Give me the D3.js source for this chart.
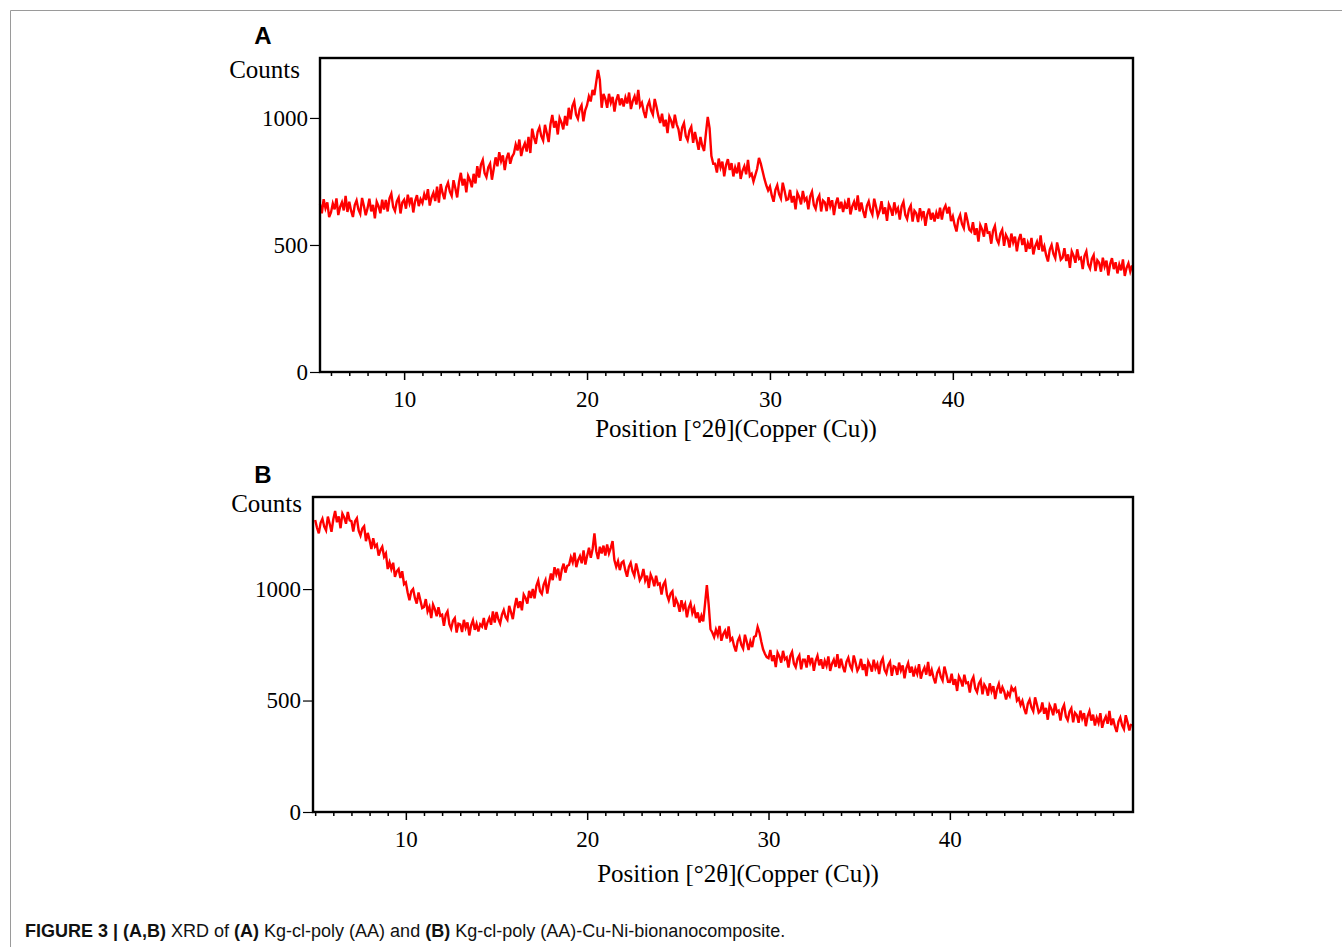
<!DOCTYPE html>
<html>
<head>
<meta charset="utf-8">
<script src="https://cdn.jsdelivr.net/npm/d3@7"></script>
<style>
  body { margin: 0; background: #fff; }
  svg { display: block; }
  .tick text { font-family: "Liberation Serif", "Times New Roman", serif; }
</style>
</head>
<body>
<svg id="fig" width="1342" height="947"></svg>
<script>
// XRD traces, counts every 0.1 deg 2theta
let startA = 5.4, stepA = 0.1;
let countsA = [
  660, 625, 680, 645, 668, 610,
  628, 663, 640, 683, 618, 650, 668, 636, 693, 630,
  670, 635, 610, 657, 675, 640, 623, 685, 653, 617,
  645, 682, 632, 658, 605, 670, 653, 625, 678, 640,
  677, 632, 684, 702, 650, 634, 672, 687, 624, 667,
  678, 643, 698, 663, 686, 628, 673, 696, 653, 680,
  665, 700, 677, 720, 655, 687, 705, 673, 730, 667,
  740, 705, 680, 727, 745, 710, 693, 755, 723, 687,
  747, 784, 734, 760, 707, 772, 755, 727, 780, 742,
  810, 765, 817, 835, 783, 767, 805, 820, 757, 800,
  845, 810, 865, 830, 853, 795, 840, 863, 820, 847,
  860, 895, 872, 915, 850, 882, 900, 868, 925, 862,
  958, 923, 898, 945, 963, 928, 911, 973, 941, 905,
  975, 1012, 962, 988, 935, 1000, 983, 955, 1008, 970,
  1040, 995, 1047, 1065, 1013, 997, 1035, 1050, 987, 1030,
  1050, 1085, 1065, 1110, 1090, 1140, 1189, 1150, 1040, 1095,
  1075, 1040, 1095, 1060, 1083, 1025, 1070, 1093, 1050, 1077,
  1045, 1080, 1057, 1100, 1035, 1067, 1085, 1053, 1110, 1047,
  1060, 1025, 1000, 1047, 1065, 1030, 1013, 1075, 1043, 1007,
  980, 1017, 967, 993, 940, 1005, 988, 960, 1013, 975,
  955, 910, 962, 980, 928, 912, 950, 965, 902, 945,
  910, 875, 925, 890, 870, 940, 1004, 960, 850, 820,
  820, 785, 840, 805, 828, 770, 815, 838, 795, 822,
  770, 805, 782, 825, 760, 792, 810, 778, 835, 772,
  780, 750, 775, 800, 843, 820, 790, 760, 735, 715,
  730, 695, 670, 717, 735, 700, 683, 745, 713, 677,
  680, 717, 667, 693, 640, 705, 688, 660, 713, 675,
  685, 640, 692, 710, 658, 642, 680, 695, 632, 675,
  668, 633, 688, 653, 676, 618, 663, 686, 643, 670,
  630, 665, 642, 685, 620, 652, 670, 638, 695, 632,
  667, 632, 607, 654, 672, 637, 620, 682, 650, 614,
  635, 672, 622, 648, 595, 660, 643, 615, 668, 630,
  645, 600, 652, 670, 618, 602, 640, 655, 592, 635,
  625, 590, 645, 610, 633, 575, 620, 643, 600, 627,
  592, 627, 604, 647, 600, 640, 655, 624, 650, 594,
  613, 578, 553, 600, 618, 583, 566, 628, 596, 560,
  553, 590, 540, 566, 513, 578, 561, 533, 586, 548,
  550, 505, 557, 575, 523, 507, 545, 560, 497, 540,
  525, 490, 545, 510, 533, 475, 520, 543, 500, 527,
  473, 508, 485, 528, 463, 495, 513, 481, 538, 475,
  495, 460, 435, 482, 500, 465, 448, 510, 478, 442,
  450, 487, 437, 463, 410, 475, 458, 430, 483, 445,
  450, 405, 457, 475, 423, 407, 445, 460, 397, 440,
  430, 395, 450, 415, 438, 380, 425, 448, 405, 432,
  388, 423, 400, 443, 378, 410, 428, 396, 420
];

let startB = 5.0, stepB = 0.1;
let countsB = [
  1310, 1275, 1250, 1297, 1315, 1280, 1263, 1325, 1293, 1257,
  1313, 1350, 1300, 1326, 1273, 1338, 1321, 1293, 1346, 1308,
  1305, 1258, 1305, 1318, 1262, 1240, 1272, 1282, 1215, 1252,
  1220, 1180, 1228, 1190, 1200, 1150, 1175, 1190, 1145, 1160,
  1090, 1120, 1090, 1118, 1055, 1080, 1090, 1050, 1080, 1022,
  1030, 985, 950, 990, 1000, 960, 935, 985, 950, 915,
  920, 955, 900, 920, 870, 930, 910, 878, 918, 880,
  885, 835, 885, 900, 843, 822, 858, 870, 805, 845,
  842, 807, 862, 827, 850, 792, 837, 860, 817, 844,
  810, 842, 832, 870, 818, 850, 870, 840, 900, 850,
  897, 865, 845, 885, 906, 875, 862, 925, 896, 865,
  920, 960, 915, 945, 905, 975, 960, 935, 992, 960,
  1000, 958, 1015, 1038, 990, 978, 1020, 1040, 980, 1028,
  1070, 1040, 1098, 1066, 1092, 1038, 1088, 1114, 1074, 1104,
  1108, 1143, 1120, 1163, 1098, 1130, 1148, 1116, 1173, 1110,
  1150, 1185, 1140, 1180, 1250, 1170, 1135, 1190, 1160, 1195,
  1150, 1200, 1160, 1185, 1215, 1130, 1100, 1125, 1085, 1118,
  1125, 1085, 1055, 1100, 1118, 1080, 1060, 1115, 1080, 1040,
  1055, 1090, 1038, 1060, 1005, 1065, 1045, 1013, 1060, 1020,
  1025, 975, 1020, 1035, 975, 950, 980, 990, 920, 955,
  935, 898, 950, 913, 933, 873, 916, 937, 892, 915,
  870, 895, 850, 880, 855, 935, 1018, 930, 820, 805,
  785, 818, 793, 835, 768, 798, 813, 778, 832, 770,
  780, 745, 720, 767, 785, 750, 733, 795, 763, 727,
  765, 740, 785, 790, 830, 805, 765, 730, 710, 695,
  690, 727, 677, 703, 650, 715, 698, 670, 723, 685,
  693, 648, 700, 718, 666, 650, 688, 703, 640, 683,
  683, 648, 703, 668, 691, 633, 678, 701, 658, 685,
  643, 678, 655, 698, 633, 665, 683, 651, 708, 645,
  687, 652, 627, 674, 692, 657, 640, 702, 670, 634,
  650, 687, 637, 663, 610, 675, 658, 630, 683, 645,
  664, 619, 671, 689, 637, 621, 659, 674, 611, 654,
  650, 615, 670, 635, 658, 600, 645, 668, 625, 652,
  608, 643, 620, 663, 598, 630, 648, 616, 673, 610,
  637, 602, 577, 624, 642, 607, 590, 652, 620, 584,
  583, 620, 570, 596, 543, 608, 591, 563, 616, 578,
  581, 536, 588, 606, 554, 538, 576, 591, 528, 571,
  557, 522, 577, 542, 565, 507, 552, 575, 532, 559,
  540, 505, 535, 520, 560, 545, 555, 500, 510, 480,
  499, 464, 439, 486, 504, 469, 452, 514, 482, 446,
  454, 491, 441, 467, 414, 479, 462, 434, 487, 449,
  455, 410, 462, 480, 428, 412, 450, 465, 402, 445,
  435, 400, 455, 420, 443, 385, 430, 453, 410, 437,
  388, 423, 400, 443, 378, 410, 428, 396, 453, 390,
  419, 384, 359, 406, 424, 389, 372, 434, 402, 366,
  395
];

let yTicks = [0, 500, 1000];
let xTicks = [10, 20, 30, 40];
let xTitle = "Position [°2θ](Copper (Cu))";
let yTitle = "Counts";

let svg = d3.select("#fig");

// thin frame round the figure
svg.append("path")
  .attr("d", "M10.5,947 V10.5 H1342")
  .attr("fill", "none")
  .attr("stroke", "#9a9a9a")
  .attr("stroke-width", 1);

let panels = [
  { label: "A", counts: countsA, start: startA, step: stepA,
    left: 320, right: 1133, top: 58, bottom: 372, xDomain: [5.4, 49.85], yMax: 1236,
    countsX: 300, countsY: 78, titleX: 736, titleY: 437 },
  { label: "B", counts: countsB, start: startB, step: stepB,
    left: 313, right: 1133, top: 497, bottom: 812, xDomain: [4.88, 50.1], yMax: 1413,
    countsX: 302, countsY: 512, titleX: 738, titleY: 882 }
];

panels.forEach(p => {
  let g = svg.append("g");

  let x = d3.scaleLinear().domain(p.xDomain).range([p.left, p.right]);
  let y = d3.scaleLinear().domain([0, p.yMax]).range([p.bottom, p.top]);

  let pts = p.counts.map((c, i) => ({ pos: p.start + i * p.step, c: c }));

  let line = d3.line()
    .x(d => x(d.pos))
    .y(d => y(d.c));

  g.append("path")
    .datum(pts)
    .attr("d", line)
    .attr("fill", "none")
    .attr("stroke", "#ff0000")
    .attr("stroke-width", 2.4)
    .attr("stroke-linejoin", "miter");

  // minor ticks every degree
  let minor = d3.range(Math.ceil(p.xDomain[0]), Math.floor(p.xDomain[1]) + 1).filter(v => v % 10 != 0);
  g.append("g")
    .attr("transform", "translate(0," + p.bottom + ")")
    .call(d3.axisBottom(x).tickValues(minor).tickSize(4).tickFormat(""))
    .call(a => a.select(".domain").remove())
    .selectAll("line").attr("stroke", "#000").attr("stroke-width", 1.5);

  let xa = g.append("g")
    .attr("transform", "translate(0," + p.bottom + ")")
    .call(d3.axisBottom(x).tickValues(xTicks).tickSize(8).tickPadding(11).tickFormat(d3.format("d")));
  xa.select(".domain").remove();
  xa.selectAll("line").attr("stroke", "#000").attr("stroke-width", 1.5);
  xa.selectAll("text").attr("font-size", 23).attr("fill", "#000");

  let ya = g.append("g")
    .attr("transform", "translate(" + p.left + ",0)")
    .call(d3.axisLeft(y).tickValues(yTicks).tickSize(10).tickPadding(2).tickFormat(d3.format("d")));
  ya.select(".domain").remove();
  ya.selectAll("line").attr("stroke", "#000").attr("stroke-width", 1.2);
  ya.selectAll("text").attr("font-size", 23).attr("fill", "#000");

  // plot box
  g.append("rect")
    .attr("x", p.left).attr("y", p.top)
    .attr("width", p.right - p.left).attr("height", p.bottom - p.top)
    .attr("fill", "none").attr("stroke", "#000").attr("stroke-width", 2.4);

  g.append("text")
    .attr("x", p.countsX).attr("y", p.countsY)
    .attr("text-anchor", "end")
    .attr("font-family", "Liberation Serif, serif")
    .attr("font-size", 25)
    .text(yTitle);

  g.append("text")
    .attr("x", p.titleX).attr("y", p.titleY)
    .attr("text-anchor", "middle")
    .attr("font-family", "Liberation Serif, serif")
    .attr("font-size", 25)
    .text(xTitle);

  g.append("text")
    .attr("x", 263).attr("y", p.top - 14)
    .attr("text-anchor", "middle")
    .attr("font-family", "Liberation Sans, Arial, sans-serif")
    .attr("font-weight", "bold")
    .attr("font-size", 24)
    .text(p.label);
});

// caption
let cap = svg.append("text")
  .attr("x", 25).attr("y", 937)
  .attr("font-family", "Liberation Sans, Arial, sans-serif")
  .attr("font-size", 18)
  .attr("fill", "#111");
cap.append("tspan").attr("font-weight", "bold").text("FIGURE 3 | (A,B)");
cap.append("tspan").text(" XRD of ");
cap.append("tspan").attr("font-weight", "bold").text("(A)");
cap.append("tspan").text(" Kg-cl-poly (AA) and ");
cap.append("tspan").attr("font-weight", "bold").text("(B)");
cap.append("tspan").text(" Kg-cl-poly (AA)-Cu-Ni-bionanocomposite.");
</script>
</body>
</html>
